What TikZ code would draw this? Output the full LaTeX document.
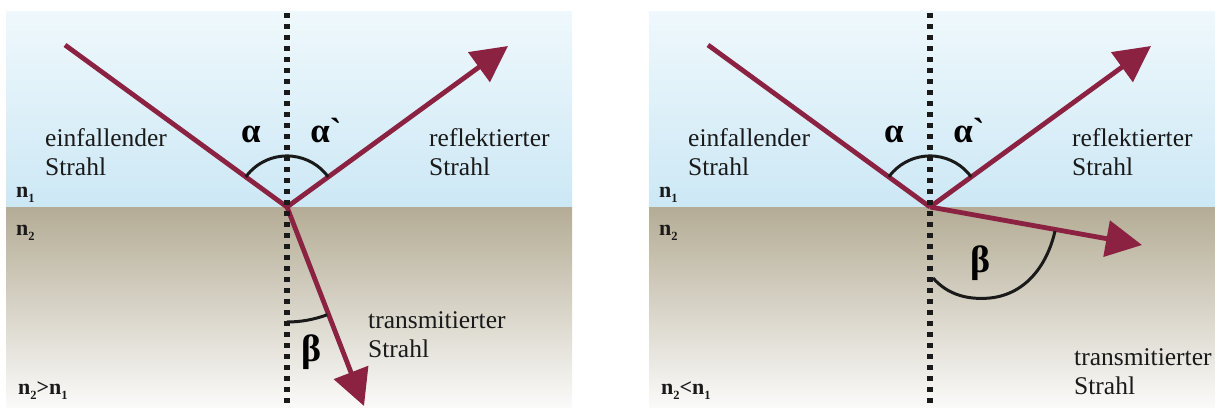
\documentclass[tikz,border=0pt]{standalone}
\usepackage{fontspec}
\setmainfont{Liberation Serif}
\newfontfamily\rawserif[Ligatures=TeXOff]{Liberation Serif}
\usetikzlibrary{arrows.meta}
\definecolor{raycol}{HTML}{8B2242}
\definecolor{skytop}{HTML}{EFF8FC}
\definecolor{skybot}{HTML}{CCE8F5}
\definecolor{groundtop}{HTML}{B4AC95}
\definecolor{groundbot}{HTML}{FAFAF9}
\definecolor{ink}{HTML}{1A1A1A}
\tikzset{
  lightray/.style={draw=raycol, line width=4.8pt},
  rayarrow/.style={lightray, -{Triangle[length=36pt,width=36pt]}, line cap=butt},
  normalline/.style={draw=ink, line width=5.5pt, dash pattern=on 5pt off 6pt},
  anglearc/.style={draw=ink, line width=3pt},
  lbl/.style={inner sep=0pt, align=left, anchor=base west, font=\fontsize{25.5}{28.5}\selectfont, text=ink},
  nlbl/.style={inner sep=0pt, anchor=base west, font=\fontsize{22}{24}\selectfont\bfseries, text=ink},
  greek/.style={inner sep=0pt, font=\rawserif\fontsize{35}{35}\selectfont\bfseries, text=black},
  greekb/.style={inner sep=0pt, font=\rawserif\fontsize{38}{38}\selectfont\bfseries, text=black},
}
\newcommand{\subidx}[1]{\raisebox{-0.25em}{\fontsize{12.5}{12.5}\selectfont\bfseries #1}}
\begin{document}
\begin{tikzpicture}[x=1pt,y=-1pt]
\useasboundingbox (0,0) rectangle (1215,407);
% ---------- left panel ----------
\begin{scope}
  \shade[top color=skytop, bottom color=skybot] (6,11) rectangle (572,207);
  \shade[top color=groundtop, bottom color=groundbot] (6,207) rectangle (572,407);
  \coordinate (O) at (287,207);
  \coordinate (Ntop) at (287,13);
  \coordinate (Nbot) at (287,407);
  \coordinate (A) at (65,45);
  \coordinate (R) at (508,46);
  \coordinate (T) at (364,406);
  \coordinate (a1) at (245.8,176.9);
  \coordinate (b1) at (287,322);
  \path[lightray] (A) -- (O);
  \draw[rayarrow] (O) -- (R);
  \draw[rayarrow] (O) -- (T);
  \path[normalline] (Ntop) -- (Nbot);
  \draw[anglearc] (a1) arc[start angle=216.1, end angle=323.9, radius=51];
  \draw[anglearc] (b1) arc[start angle=90, end angle=69.5, radius=115];
  \node[lbl] (einL) at (45,175) {einfallender\\Strahl};
  \node[lbl] (refL) at (429,175) {reflektierter\\Strahl};
  \node[lbl] (traL) at (368,357) {transmitierter\\Strahl};
  \node[nlbl] (n1L) at (16,197) {n\subidx{1}};
  \node[nlbl] (n2L) at (16,235) {n\subidx{2}};
  \node[nlbl] (cL) at (18,394) {n\subidx{2}>n\subidx{1}};
  \node[greek] (alL) at (251,134) {α};
  \node[greek] (alpL) at (326,131) {α`};
  \node[greekb] (beL) at (312,352) {β};
\end{scope}
% ---------- right panel ----------
\begin{scope}[xshift=643pt]
  \shade[top color=skytop, bottom color=skybot] (6,11) rectangle (572,207);
  \shade[top color=groundtop, bottom color=groundbot] (6,207) rectangle (572,407);
  \coordinate (P) at (287,207);
  \coordinate (Mtop) at (287,13);
  \coordinate (Mbot) at (287,407);
  \coordinate (B) at (65,45);
  \coordinate (S) at (508,46);
  \coordinate (U) at (499,245);
  \coordinate (a2) at (245.8,176.9);
  \coordinate (b2s) at (290,278);
  \coordinate (b2m) at (347,298);
  \coordinate (b2e) at (412,231);
  \path[lightray] (B) -- (P);
  \draw[rayarrow] (P) -- (U);
  \draw[rayarrow] (P) -- (S);
  \path[normalline] (Mtop) -- (Mbot);
  \draw[anglearc] (a2) arc[start angle=216.1, end angle=323.9, radius=51];
  \draw[anglearc] (b2s) .. controls (305,295) and (325,300) .. (b2m) .. controls (385,294) and (405,262) .. (b2e);
  \node[lbl] (einR) at (45,175) {einfallender\\Strahl};
  \node[lbl] (refR) at (429,175) {reflektierter\\Strahl};
  \node[lbl] (traR) at (431,394) {transmitierter\\Strahl};
  \node[nlbl] (n1R) at (16,197) {n\subidx{1}};
  \node[nlbl] (n2R) at (16,235) {n\subidx{2}};
  \node[nlbl] (cR) at (18,394) {n\subidx{2}<n\subidx{1}};
  \node[greek] (alR) at (251,134) {α};
  \node[greek] (alpR) at (326,131) {α`};
  \node[greekb] (beR) at (337,263) {β};
\end{scope}
\end{tikzpicture}
\end{document}
